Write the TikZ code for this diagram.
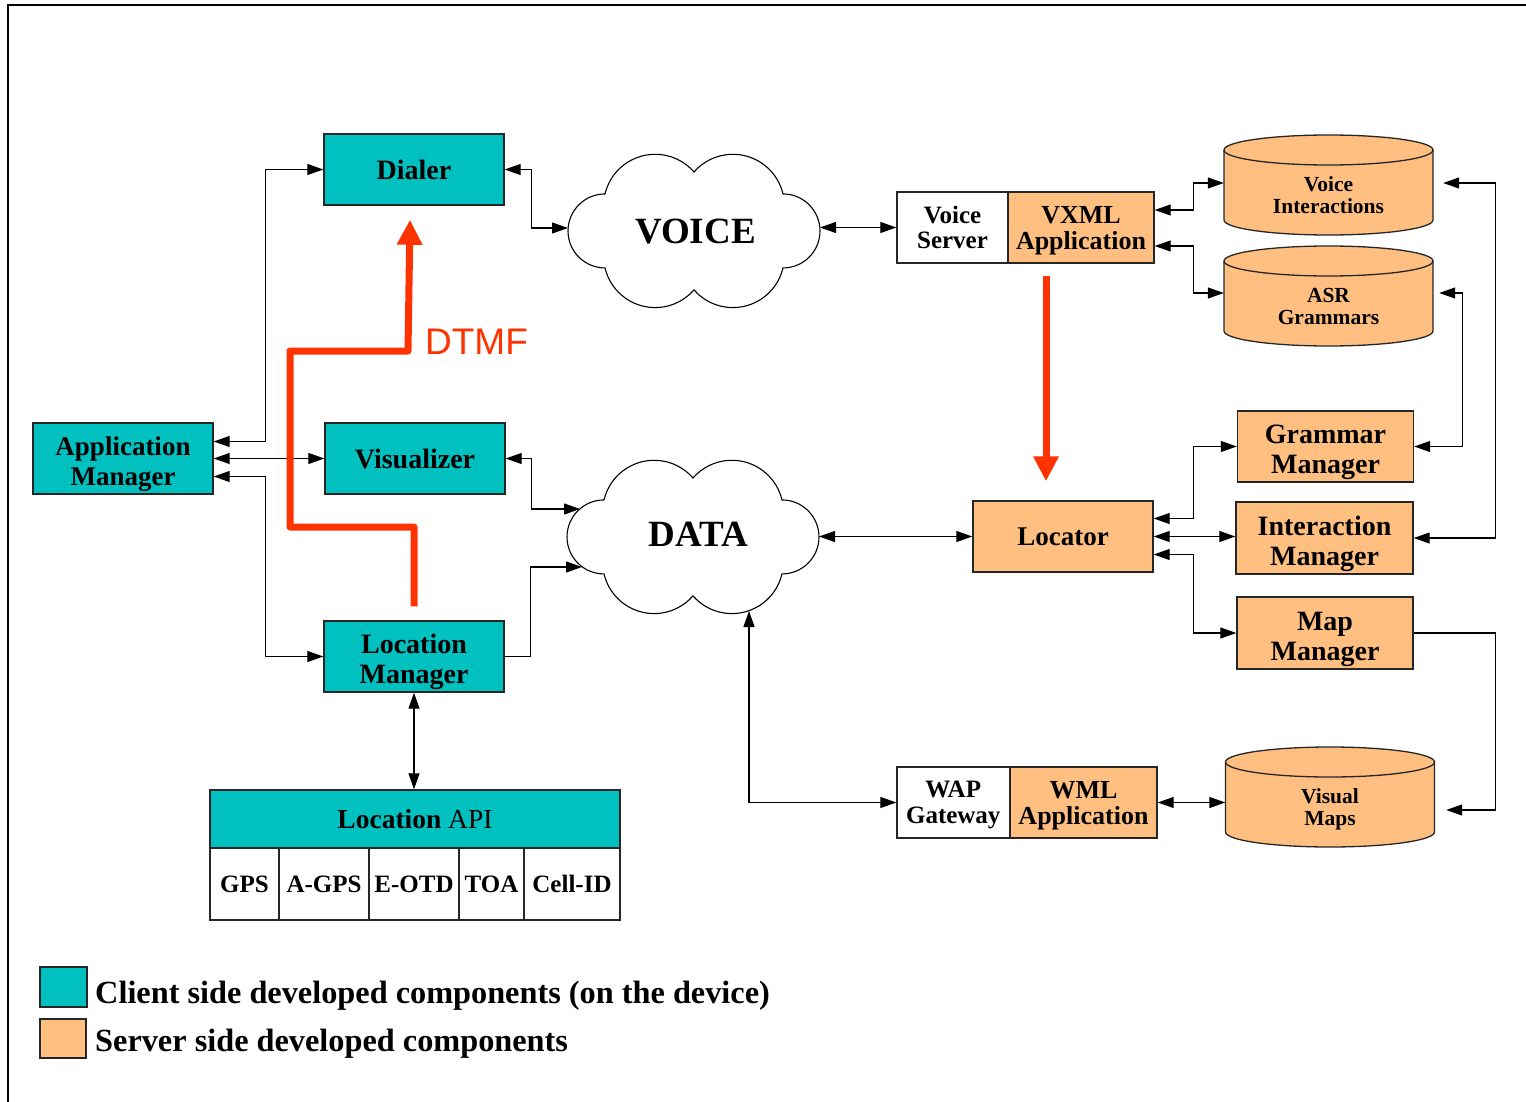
\documentclass[tikz,border=0pt]{standalone}
\usepackage{fontspec}
\setmainfont{Liberation Serif}
\newfontfamily\dtmffont{Liberation Sans}
\usetikzlibrary{arrows.meta,calc}
\definecolor{clientcol}{RGB}{0,192,192}
\definecolor{servercol}{RGB}{255,191,128}
\definecolor{signalred}{RGB}{255,51,0}

% invisible strut that pads the first text line from above
\newcommand{\padtop}[1]{\rule{0pt}{#1}}

% cloud outline of six circular puffs around the point (#1,#2)
\newcommand{\puffcloud}[2]{%
  \draw[cloudline] (#1,#2-59)
    arc[start angle=-139,end angle=-13.3,radius=51.5]
    arc[start angle=-90,end angle=90,radius=37]
    arc[start angle=13.3,end angle=139,radius=51.5]
    arc[start angle=41,end angle=166.7,radius=51.5]
    arc[start angle=90,end angle=270,radius=37]
    arc[start angle=193.3,end angle=319,radius=51.5] -- cycle;}

% database drum centred on (#1,#2)
\newcommand{\drumat}[2]{%
  \path[drumbody] (#1-104.5,#2-35) -- (#1-104.5,#2+35)
    arc[start angle=180,end angle=0,x radius=104.5,y radius=15]
    -- (#1+104.5,#2-35)
    arc[start angle=0,end angle=-180,x radius=104.5,y radius=15] -- cycle;
  \draw[drumline] (#1-104.5,#2-35)
    arc[start angle=180,end angle=0,x radius=104.5,y radius=15];}

\begin{document}
\begin{tikzpicture}[x=1pt,y=-1pt,
  box/.style={draw=black!85,line width=1.4pt,inner sep=2pt,align=center,minimum height=71pt},
  client/.style={box,fill=clientcol},
  server/.style={box,fill=servercol},
  plainbox/.style={box,fill=white},
  bigtext/.style={font=\fontsize{28}{30}\bfseries\selectfont},
  midtext/.style={font=\fontsize{25}{25.5}\bfseries\selectfont},
  apptext/.style={font=\fontsize{26}{26}\bfseries\selectfont},
  drumtext/.style={font=\fontsize{21.5}{22}\bfseries\selectfont,align=center,inner sep=0pt,minimum width=209pt},
  cloudtext/.style={font=\fontsize{37}{37}\bfseries\selectfont,inner sep=0pt},
  cloudline/.style={draw=black,line width=1.1pt,fill=white},
  drumbody/.style={draw=black!85,line width=1.3pt,fill=servercol},
  drumline/.style={draw=black!85,line width=1.3pt},
  conn/.style={draw=black,line width=1.2pt,{Triangle[length=16pt,width=11pt]}-{Triangle[length=16pt,width=11pt]}},
  oneway/.style={draw=black,line width=1.2pt,-{Triangle[length=16pt,width=11pt]}},
  dtmf/.style={draw=signalred,line width=7pt,line join=round,-{Triangle[length=25pt,width=24pt]}},
]
\useasboundingbox (0,0) rectangle (1526,1102);

% page frame
\draw[line width=2pt,black] (8,1102) -- (8,5) -- (1526,5);

% networks
\puffcloud{694}{231}
\puffcloud{693}{537}
\node[cloudtext] (voice) at (695.5,232) {VOICE};
\node[cloudtext] (data) at (698.5,534) {DATA};
\coordinate (voiceL) at (568,228);
\coordinate (voiceR) at (820,227.5);
\coordinate (dataR) at (819,536.5);
\coordinate (dataVis) at (580,509);
\coordinate (dataLoc) at (582,567);
\coordinate (dataWap) at (749,611);

% client side components
\node[client,bigtext,minimum width=180pt] (dialer) at (414,169.5) {Dialer};
\node[client,font=\fontsize{27}{30}\bfseries\selectfont,minimum width=180pt] (appmgr) at (123,458.5) {\padtop{30.5pt}Application\\Manager};
\node[client,bigtext,minimum width=180pt] (vis) at (415,458.5) {Visualizer};
\node[client,bigtext,minimum width=180pt] (locmgr) at (414,656.5) {\padtop{30.5pt}Location\\Manager};
\node[client,font=\fontsize{27.5}{28}\bfseries\selectfont,minimum width=410pt,minimum height=58pt] (api) at (415,819) {Location \mdseries API};
\node[plainbox,midtext,minimum width=69pt,minimum height=72pt] (gps) at (244.5,884) {GPS};
\node[plainbox,midtext,minimum width=90pt,minimum height=72pt] (agps) at (324,884) {A-GPS};
\node[plainbox,midtext,minimum width=90pt,minimum height=72pt] (eotd) at (414,884) {E-OTD};
\node[plainbox,midtext,minimum width=65pt,minimum height=72pt] (toa) at (491.5,884) {TOA};
\node[plainbox,midtext,minimum width=96pt,minimum height=72pt] (cellid) at (572,884) {Cell-ID};

% server side components
\node[plainbox,midtext,minimum width=111pt] (vs) at (952.5,227.5) {Voice\\Server};
\node[server,apptext,minimum width=146pt] (vxml) at (1081,227.5) {\padtop{24.2pt}VXML\\Application};
\node[plainbox,midtext,minimum width=112.5pt] (wap) at (953.25,802.5) {\padtop{21.6pt}WAP\\Gateway};
\node[server,apptext,minimum width=147pt] (wml) at (1083.5,802.5) {\padtop{24.2pt}WML\\Application};
\node[server,font=\fontsize{27}{30}\bfseries\selectfont,minimum width=180pt] (locator) at (1063,536.5) {Locator};
\node[server,bigtext,minimum width=176pt] (gm) at (1325.5,446.5) {\padtop{30.5pt}Grammar\\Manager};
\node[server,bigtext,minimum width=177pt,minimum height=72pt] (im) at (1324.5,538) {\padtop{30.5pt}Interaction\\Manager};
\node[server,bigtext,minimum width=176pt,minimum height=72pt] (mm) at (1325,633) {\padtop{30.5pt}Map\\Manager};

% data stores
\drumat{1328.5}{185}
\drumat{1328.5}{296}
\drumat{1330}{797}
\node[drumtext] (vi) at (1328.5,195) {Voice\\Interactions};
\node[drumtext] (asr) at (1328.5,306) {ASR\\Grammars};
\node[drumtext] (vm) at (1330,807.5) {\padtop{18.7pt}Visual\\Maps};

% client links
\draw[conn] ([yshift=17pt]appmgr.east) -- ++(52,0) |- (dialer.west);
\draw[conn] (appmgr.east) -- (vis.west);
\draw[conn] ([yshift=-18pt]appmgr.east) -- ++(52,0) |- (locmgr.west);
\draw[conn] (dialer.east) -- ++(27,0) |- (voiceL);
\draw[conn] (vis.east) -- ++(26,0) |- (dataVis);
\draw[oneway] (locmgr.east) -- ++(26,0) |- (dataLoc);
\draw[conn] (locmgr.south) -- (locmgr.south |- api.north);

% network to server links
\draw[conn] (voiceR) -- (vs.west);
\draw[conn] (dataR) -- (locator.west);
\draw[conn] (wap.west) -| (dataWap);

% server links
\draw[conn] ([yshift=17.5pt]vxml.east) -- ++(39,0) |- ([yshift=12pt]vi.west);
\draw[conn] ([yshift=-18.5pt]vxml.east) -- ++(39,0) |- ([yshift=13pt]asr.west);
\draw[conn] ([yshift=18pt]locator.east) -- ++(40,0) |- (gm.west);
\draw[conn] (locator.east) -- (locator.east -| im.west);
\draw[conn] ([yshift=-18pt]locator.east) -- ++(40,0) |- (mm.west);
\draw[conn] (im.east) -- ++(82,0) |- ([xshift=10pt,yshift=12pt]vi.east);
\draw[conn] (gm.east) -- ++(48,0) |- ([xshift=6pt,yshift=13pt]asr.east);
\draw[oneway] (mm.east) -- ++(82,0) |- ([xshift=11.5pt,yshift=-2.5pt]vm.east);
\draw[conn] (wml.east) -- (wml.east -| vm.west);

% signalling paths
\draw[dtmf] ([yshift=14pt]locmgr.north) |- (290,527) |- (408,351) -- ([xshift=-4pt,yshift=-14pt]dialer.south);
\node[font=\dtmffont\fontsize{37}{37}\selectfont,text=signalred,inner sep=0pt] (dtmflabel) at (476.5,341.5) {DTMF};
\draw[dtmf] ([xshift=-35pt,yshift=-12pt]vxml.south) -- ([xshift=-17pt,yshift=19pt]locator.north);

% legend
\node[draw=black!85,line width=1.2pt,fill=clientcol,minimum width=47pt,minimum height=40pt,inner sep=0pt] (keyclient) at (63.5,987) {};
\node[anchor=base west,font=\fontsize{32.3}{34}\bfseries\selectfont,inner sep=0pt] (keyclienttext) at (95,1003) {Client side developed components (on the device)};
\node[draw=black!85,line width=1.2pt,fill=servercol,minimum width=46pt,minimum height=39pt,inner sep=0pt] (keyserver) at (63,1038.5) {};
\node[anchor=base west,font=\fontsize{32.3}{34}\bfseries\selectfont,inner sep=0pt] (keyservertext) at (95,1051) {Server side developed components};
\end{tikzpicture}
\end{document}
